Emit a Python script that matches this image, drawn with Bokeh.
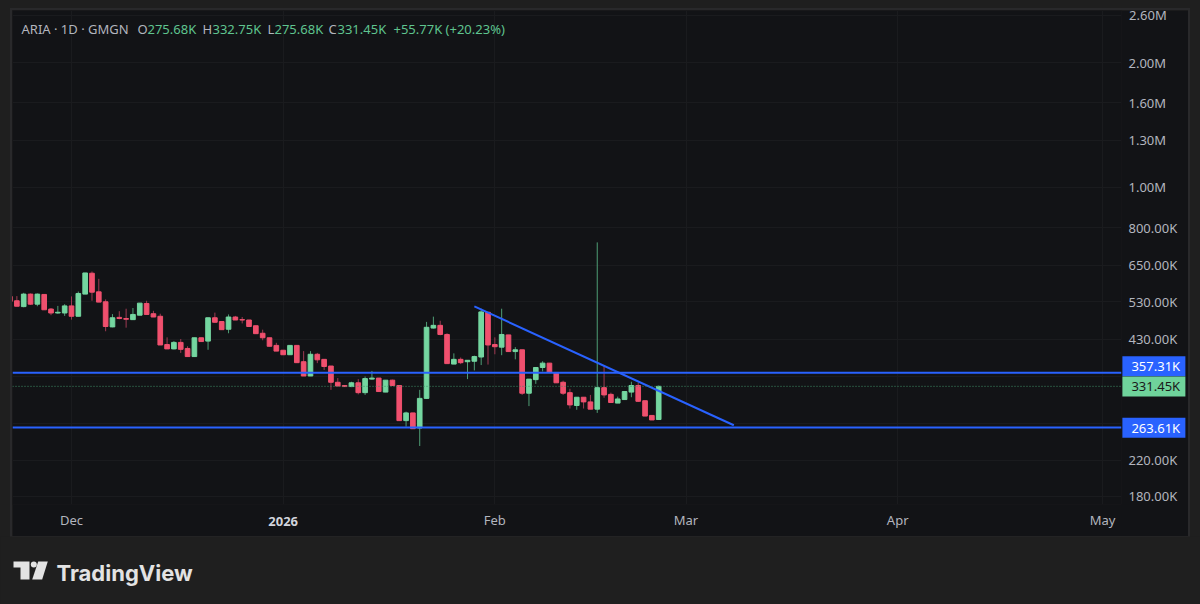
from bokeh.embed import file_html
from bokeh.resources import INLINE
from bokeh.plotting import figure
from bokeh.layouts import column
from bokeh.models import FixedTicker, Label, Span, ColumnDataSource
from bokeh.core.properties import value

# ---- data (prices in thousands) ----
days = list(range(-9, 87))   # days since 1 Dec 2025
opens = [546,533,516,553,523,552,509,498,498,518,
         489,553,621,560,530,461,486,483,480,492,
         525,496,489,418,408,423,409,391,434,426,
         485,475,455,487,480,479,464,445,434,416,
         405,395,416,380,351,396,385,371,339,333,
         331,338,320,345,347,321,343,333,274,286,
         263,310,458,465,442,375,385,380,381,390,
         500,418,412,441,402,406,319,344,368,377,
         358,339,320,298,312,304,292,329,317,302,
         308,321,333,306,282,275.68]
highs = [546,547,557,555,555,552,512,518,523,546,
         561,622,627,602,537,495,503,510,512,526,
         533,504,496,435,426,431,414,434,434,485,
         499,475,494,490,487,479,464,454,434,422,
         405,416,416,403,403,399,385,371,347,333,
         340,345,350,361,347,343,344,333,288,286,
         325,474,488,477,445,398,389,383,393,510,
         500,435,510,441,412,406,345,368,381,377,
         358,342,327,312,312,316,737,371,320,313,
         322,340,338,306,282,332.75]
lows = [531,517,514,521,517,507,492,496,490,480,
        489,553,533,529,450,460,481,459,480,492,
        494,487,417,408,407,399,391,390,424,406,
        472,454,445,479,470,462,444,428,414,403,
        395,395,378,351,351,377,363,325,332,331,
        330,317,316,344,322,321,333,274,265,262,
        238,309,457,440,376,375,375,345,362,373,
        374,396,394,402,385,316,297,336,360,358,
        338,316,293,291,293,292,286,311,303,302,
        308,312,304,281,275,275.68]
closes = [531,517,553,523,553,507,498,500,518,489,
          555,622,559,529,462,485,483,481,494,526,
          494,487,417,408,423,407,391,434,425,485,
          473,454,487,479,479,462,444,434,414,403,
          395,416,378,351,396,384,370,339,332,331,
          338,320,346,347,322,343,333,274,286,262,
          310,460,465,442,376,385,378,383,391,501,
          417,413,442,402,406,319,345,368,377,358,
          338,319,299,312,304,292,329,316,303,309,
          322,333,305,281,275,331.45]

price_ticks = [180, 220, 270, 350, 430, 530, 650, 800, 1000, 1300, 1600, 2000, 2600]
price_labels = ["180.00K", "220.00K", "", "", "430.00K", "530.00K", "650.00K", "800.00K",
                "1.00M", "1.30M", "1.60M", "2.00M", ""]
top_tick = 2600
top_label = "2.60M"
time_ticks = [0, 31, 62, 90, 121, 151]
time_labels = ["Dec", "", "Feb", "Mar", "Apr", "May"]
year_tick = 31
year_label = "2026"

level_prices = [357.31, 263.61]
last_price = 331.45
tag_labels = ["357.31K", "331.45K", "263.61K"]
tag_prices = [370.6, 331.45, 263.61]      # the top tag is pushed up clear of the middle one
tag_fills = ["#2962ff", "#6fd39b", "#2962ff"]
tag_texts = ["#ffffff", "#1a1a1a", "#ffffff"]
trend_days = [59, 97]
trend_prices = [516.7, 267.0]

header = [("ARIA \u00b7 1D \u00b7 GMGN", 21, "#b2b5be"),
          ("O", 137, "#b2b5be"), ("275.68K", 147, "#5fc48f"),
          ("H", 202, "#b2b5be"), ("332.75K", 212, "#5fc48f"),
          ("L", 267, "#b2b5be"), ("275.68K", 274, "#5fc48f"),
          ("C", 328, "#b2b5be"), ("331.45K", 337, "#5fc48f"),
          ("+55.77K (+20.23%)", 393, "#5fc48f")]

# ---- style ----
PAGE = "#1f1f1f"
PANEL = "#121316"
GRID = "#1a1b1e"
UP, DOWN = "#74d6a0", "#f0506e"
UP_W, DOWN_W = "#4f9e75", "#9e3a52"
BLUE = "#2962ff"
FONT = "Noto Sans"
TEXT = "#b2b5be"
FRAME_BOTTOM = 504

p = figure(frame_width=1109, frame_height=494, x_range=(-8.64, 153.78), y_range=(172, 2670),
           y_axis_type="log", y_axis_location="right", output_backend="svg", toolbar_location=None,
           min_border_left=0, min_border_top=0, min_border_right=67, min_border_bottom=32,
           background_fill_color=PANEL, border_fill_color=PANEL, outline_line_color=None,
           margin=(10, 12, 0, 12))
p.styles = {"outline": "2px solid #29292b"}

src = ColumnDataSource(dict(
    x=days, o=opens, h=highs, l=lows, c=closes,
    top=[max(a, b) for a, b in zip(opens, closes)],
    bot=[min(a, b) for a, b in zip(opens, closes)],
    col=[UP if c >= o else DOWN for o, c in zip(opens, closes)],
    wick=[UP_W if c >= o else DOWN_W for o, c in zip(opens, closes)]))

yax = p.yaxis[0]
yax.ticker = FixedTicker(ticks=price_ticks)
yax.major_label_overrides = dict(zip(price_ticks, price_labels))
xax = p.xaxis[0]
xax.ticker = FixedTicker(ticks=time_ticks)
xax.major_label_overrides = dict(zip(time_ticks, time_labels))
for ax in (xax, yax):
    ax.axis_line_color = None
    ax.major_tick_line_color = None
    ax.minor_tick_line_color = None
    ax.major_label_text_color = TEXT
    ax.major_label_text_font = FONT
    ax.major_label_text_font_size = "13px"
yax.major_label_standoff = 1
xax.major_label_standoff = 0
p.grid.grid_line_color = GRID
p.grid.grid_line_width = 1

p.add_layout(Span(location=last_price, dimension="width", line_color="#3f8f68",
                  line_width=1, line_dash="1 2"))
for lv in level_prices:
    p.add_layout(Span(location=lv, dimension="width", line_color=BLUE, line_width=2))

p.segment("x", "h", "x", "l", source=src, color="wick", line_width=1)
p.vbar("x", top="top", bottom="bot", width=0.68, source=src, fill_color="col", line_color="col", line_width=1)
p.line(trend_days, trend_prices, line_color=BLUE, line_width=2)

for txt, x, col in header:
    p.add_layout(Label(x=x - 12, y=FRAME_BOTTOM - 28, x_units="screen", y_units="screen", text=txt,
                       text_color=col, text_font=FONT, text_font_size="13px", text_baseline="middle"))

# footer with the logo
f = figure(frame_width=1200, frame_height=68, x_range=(0, 1200), y_range=(68, 0), output_backend="svg",
           toolbar_location=None, min_border=0, background_fill_color=PAGE, border_fill_color=PAGE,
           outline_line_color=None, x_axis_type=None, y_axis_type=None)
f.grid.visible = False
LOGO = "#e3e3e3"
f.patches([[13, 29, 29, 20, 20, 13], [37.7, 47.3, 41.7, 31.7]],
          [[25, 25, 43, 43, 31, 31], [25, 25, 43, 43]], color=LOGO, line_width=0)
f.scatter([33.3], [28], size=6, color=LOGO, line_width=0)
f.text([56], [36], text=["TradingView"], text_color=LOGO, text_font=value("Inter"),
       text_font_size="22px", text_font_style="bold", text_baseline="middle")

# transparent sheet over the whole panel, same scales, carries what lies outside the main frame
o = figure(frame_width=1176, frame_height=526, x_range=(-8.64, 163.6), y_range=(144.1, 2670),
           y_axis_type="log", output_backend="svg", toolbar_location=None, min_border=0,
           background_fill_alpha=0, border_fill_alpha=0, outline_line_color=None,
           margin=(-594, 12, 0, 12))
o.axis.visible = False
o.grid.visible = False
TAG_X, TAG_TEXT_X = 158.53, 155.24
LABEL_X = 154.9
o.rect([TAG_X] * 3, tag_prices, width=63, height=20, width_units="screen", height_units="screen",
       color=tag_fills, line_width=0)
o.text([TAG_TEXT_X] * 3, tag_prices, text=tag_labels, text_color=tag_texts, text_font=value(FONT),
       text_font_size="13px", text_baseline="middle")
o.text([LABEL_X], [top_tick], text=[top_label], text_color=TEXT, text_font=value(FONT),
       text_font_size="13px", text_baseline="middle")
o.text([year_tick], [157], text=[year_label], text_color="#d1d4dc", text_font=value(FONT),
       text_font_size="13px", text_font_style="bold", text_align="center", text_baseline="middle")

layout = column(p, f, o, spacing=0)
html = file_html(layout, INLINE)
html = html.replace("<head>", "<head><style>html,body{background:#1f1f1f}</style>", 1)
open("out.html", "w").write(html)
